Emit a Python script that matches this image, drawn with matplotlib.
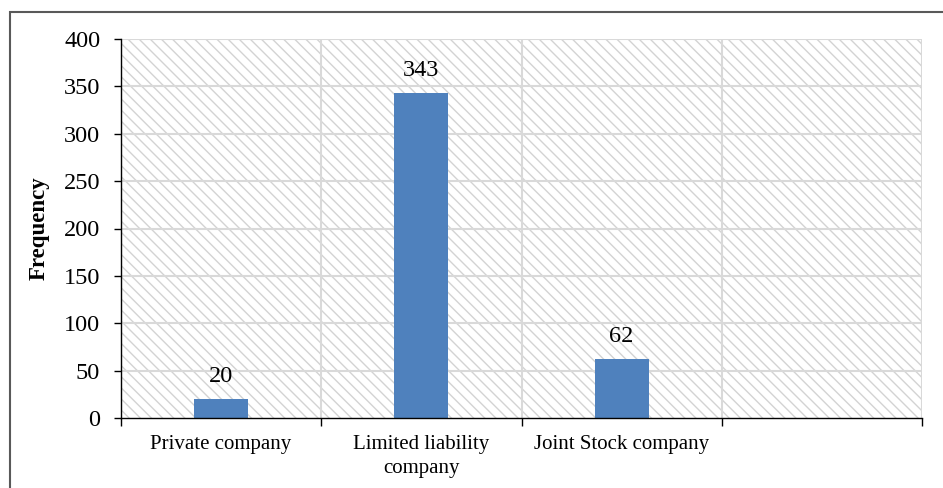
import matplotlib.pyplot as plt
from matplotlib.patches import Rectangle

categories = ["Private company", "Limited liability\ncompany", "Joint Stock company", ""]
frequency = [20, 343, 62, None]
y_ticks = [0, 50, 100, 150, 200, 250, 300, 350, 400]

plt.rcParams['font.family'] = ['Liberation Serif', 'DejaVu Serif']
plt.rcParams['hatch.linewidth'] = 1.0

fig = plt.figure(figsize=(9.43, 4.88), dpi=100)
ax = fig.add_axes([121 / 943, 1 - 418 / 488, 801 / 943, 379 / 488])

# hatched plot area background
bg = Rectangle((0, 0), 1, 1, transform=ax.transAxes, facecolor='white',
               edgecolor='#d3d3d3', linewidth=0, hatch='\\\\\\', zorder=0.1)
ax.add_patch(bg)

xs = list(range(len(categories)))
vals = [v for v in frequency if v is not None]
bars = ax.bar(xs[:len(vals)], vals, width=0.27, color='#4f81bd', zorder=2)
ax.bar_label(bars, labels=[str(v) for v in vals], padding=9, fontsize=17.5)

ax.set_xlim(-0.5, len(categories) - 0.5)
ax.set_ylim(0, 400)
ax.set_yticks(y_ticks)
ax.tick_params(axis='y', labelsize=17.5, length=5, width=1, pad=10, direction='out')

ax.set_xticks(xs)
ax.set_xticklabels(categories, fontsize=15, linespacing=1.35)
ax.set_xticks([x - 0.5 for x in xs] + [xs[-1] + 0.5], minor=True)
ax.tick_params(axis='x', which='major', length=0, pad=12)
ax.tick_params(axis='x', which='minor', length=6, width=1, direction='out')

# grid
ax.set_axisbelow(True)
for y in y_ticks[1:]:
    ax.axhline(y, color='#d9d9d9', lw=1.5, zorder=0.5)
for x in [x + 0.5 for x in xs]:
    ax.axvline(x, color='#d9d9d9', lw=1.5, zorder=0.5)

for s in ['top', 'right']:
    ax.spines[s].set_visible(False)
for s in ['left', 'bottom']:
    ax.spines[s].set_color('black')
    ax.spines[s].set_linewidth(1.0)

ax.set_ylabel("Frequency", fontsize=16.5, fontweight='bold')
ax.yaxis.set_label_coords(-(121 - 50) / 801, 0.5)

# outer frame
fig.patches.append(Rectangle((10 / 943, -0.1), 1.2, 1.1 - 12 / 488, transform=fig.transFigure,
                             fill=False, edgecolor='#595959', lw=1.5))

fig.savefig("out.png", dpi=100)
